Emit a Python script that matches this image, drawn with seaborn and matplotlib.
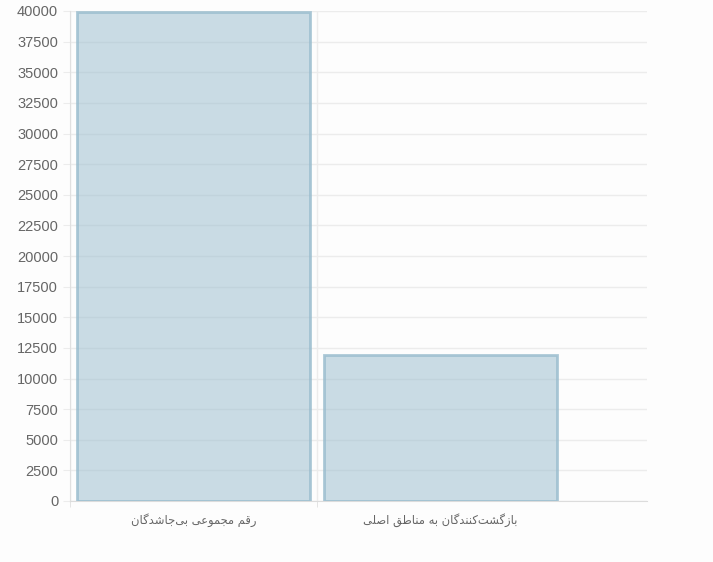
import numpy as np
import pandas as pd
import matplotlib
matplotlib.use('Agg')
import matplotlib.pyplot as plt
import seaborn as sns

# data
categories = ['رقم مجموعی بی‌جاشدگان', 'بازگشت‌کنندگان به مناطق اصلی']
values = [39900, 11900]
y_ticks = list(range(0, 40001, 2500))

# minimal Arabic/Persian shaping (isolated, final, initial, medial)
FORMS = {
    'ا': ('\uFE8D', '\uFE8E', None, None),
    'ب': ('\uFE8F', '\uFE90', '\uFE91', '\uFE92'),
    'ت': ('\uFE95', '\uFE96', '\uFE97', '\uFE98'),
    'ج': ('\uFE9D', '\uFE9E', '\uFE9F', '\uFEA0'),
    'د': ('\uFEA9', '\uFEAA', None, None),
    'ر': ('\uFEAD', '\uFEAE', None, None),
    'ز': ('\uFEAF', '\uFEB0', None, None),
    'ش': ('\uFEB5', '\uFEB6', '\uFEB7', '\uFEB8'),
    'ص': ('\uFEB9', '\uFEBA', '\uFEBB', '\uFEBC'),
    'ط': ('\uFEC1', '\uFEC2', '\uFEC3', '\uFEC4'),
    'ع': ('\uFEC9', '\uFECA', '\uFECB', '\uFECC'),
    'ق': ('\uFED5', '\uFED6', '\uFED7', '\uFED8'),
    'ک': ('\uFB8E', '\uFB8F', '\uFB90', '\uFB91'),
    'گ': ('\uFB92', '\uFB93', '\uFB94', '\uFB95'),
    'ل': ('\uFEDD', '\uFEDE', '\uFEDF', '\uFEE0'),
    'م': ('\uFEE1', '\uFEE2', '\uFEE3', '\uFEE4'),
    'ن': ('\uFEE5', '\uFEE6', '\uFEE7', '\uFEE8'),
    'و': ('\uFEED', '\uFEEE', None, None),
    'ه': ('\uFEE9', '\uFEEA', '\uFEEB', '\uFEEC'),
    'ی': ('\uFBFC', '\uFBFD', '\uFBFE', '\uFBFF'),
}


def shape(text):
    chars = list(text)
    out = []
    for i, c in enumerate(chars):
        if c not in FORMS:
            if c != '\u200c':
                out.append(c)
            continue
        prev = chars[i - 1] if i > 0 else None
        nxt = chars[i + 1] if i + 1 < len(chars) else None
        join_prev = prev in FORMS and FORMS[prev][2] is not None
        join_next = nxt in FORMS and FORMS[c][2] is not None
        iso, fin, ini, med = FORMS[c]
        if join_prev and join_next:
            out.append(med)
        elif join_prev:
            out.append(fin)
        elif join_next:
            out.append(ini)
        else:
            out.append(iso)
    return ''.join(reversed(out))


df = pd.DataFrame({'category': [shape(c) for c in categories], 'value': values})

fig = plt.figure(figsize=(7.13, 5.62), dpi=100, facecolor='#fdfdfd')
ax = fig.add_axes([70 / 713, 61 / 562, 577 / 713, 490 / 562])
ax.set_facecolor('#fdfdfd')

sns.barplot(data=df, x='category', y='value', ax=ax, width=0.94,
            color=(151 / 255, 187 / 255, 205 / 255, 0.5),
            edgecolor=(151 / 255, 187 / 255, 205 / 255, 0.8),
            linewidth=2.0, saturation=1, zorder=3)

ax.set_ylim(0, 40000)
ax.set_xlim(-0.5, 1.836)
ax.set_yticks(y_ticks)
ax.set_yticklabels([str(t) for t in y_ticks])
ax.set_xticks([0, 1])
ax.set_xticks([-0.5, 0.5], minor=True)
ax.set_xlabel('')
ax.set_ylabel('')

ax.grid(axis='y', color='#ececec', linewidth=1, zorder=0)
ax.grid(axis='x', which='minor', color='#ececec', linewidth=1, zorder=0)
ax.grid(axis='x', which='major', visible=False)

for side in ['top', 'right']:
    ax.spines[side].set_visible(False)
ax.spines['left'].set_color('#e0e0e0')
ax.spines['bottom'].set_color('#dcdcdc')

ax.tick_params(axis='y', length=5, color='#ececec', labelsize=10.5,
               labelcolor='#666666', pad=3.5)
ax.tick_params(axis='x', which='major', length=0, labelsize=8.3,
               labelcolor='#666666', pad=9)
ax.tick_params(axis='x', which='minor', length=4.5, color='#e0e0e0')
for lab in ax.get_yticklabels():
    lab.set_fontfamily(['Liberation Sans', 'DejaVu Sans'])
for lab in ax.get_xticklabels():
    lab.set_fontfamily(['DejaVu Sans'])

fig.savefig('out.png', dpi=100, facecolor=fig.get_facecolor())
